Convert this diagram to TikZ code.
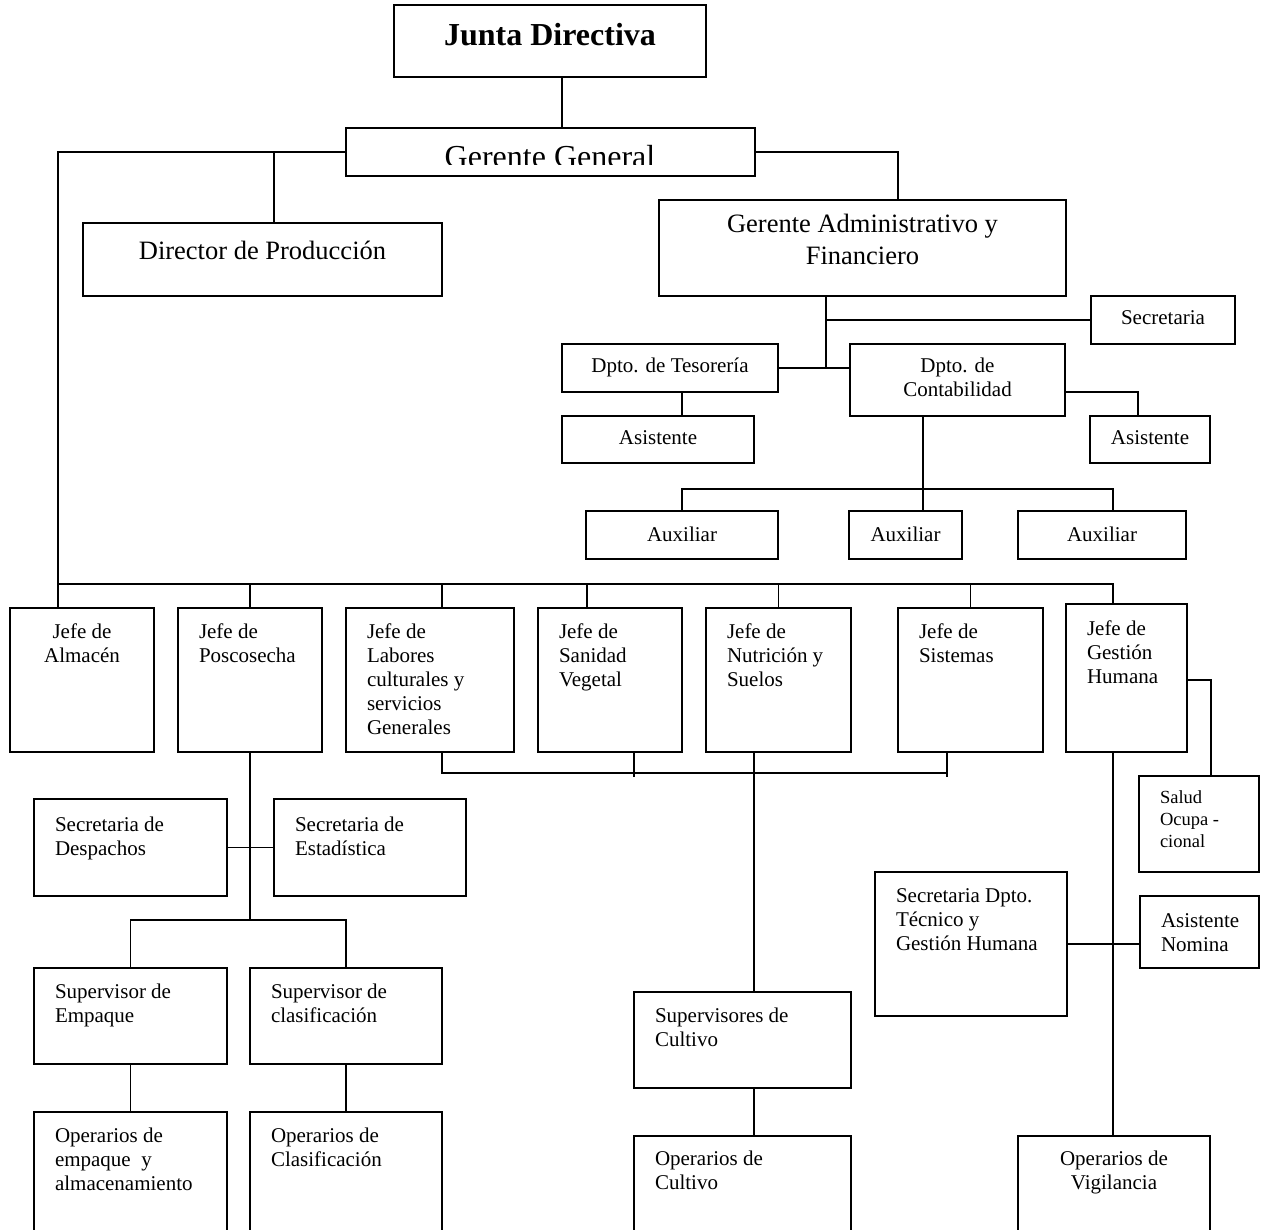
\documentclass[tikz,border=0pt]{standalone}
\usepackage{fontspec}
\setmainfont{Liberation Serif}
\tikzset{
  box/.style={draw, line width=1.4pt, inner sep=0pt, outer sep=0pt, anchor=north west, font=\fontsize{21}{24}\selectfont},
  conn/.style={line width=1.4pt}
}
% #1 name, #2 x1, #3 y1, #4 x2, #5 y2, #6 alignment/font, #7 first baseline offset, #8 text
\newcommand\obox[8]{%
  \pgfmathsetmacro\bxw{#4-#2}\pgfmathsetmacro\bxh{#5-#3}%
  \node[box] (#1) at (#2,#3) {\parbox[t][\bxh pt][t]{\bxw pt}{#6\rule{0pt}{#7pt}#8\par}};%
}
\newcommand\AlL{\raggedright\leftskip=21pt\relax}
\newcommand\AlC{\centering}
\begin{document}
\begin{tikzpicture}[x=1pt,y=-1pt]
\useasboundingbox (0,0) rectangle (1264,1230);
\fill[white] (0,0) rectangle (1264,1230);
\clip (0,0) rectangle (1264,1230);

% ---- boxes ----
\obox{jd}{394}{5}{706}{77}{\AlC\fontsize{32}{38}\selectfont\bfseries}{41}{Junta Directiva}
\obox{gg}{346}{128}{755}{176}{\AlC}{30}{}
\begin{scope}
  \clip (gg.north west) rectangle ([yshift=11pt]gg.south east);
  \node[anchor=base, inner sep=0pt, font=\fontsize{32}{38}\selectfont] (ggtxt) at (550,168) {Gerente General};
\end{scope}
\obox{dir}{83}{223}{442}{296}{\AlC\fontsize{26.5}{32}\selectfont}{37}{Director de Producción}
\obox{ga}{659}{200}{1066}{296}{\AlC\fontsize{26.5}{32}\selectfont}{33}{Gerente Administrativo y\\Financiero}
\obox{sec}{1091}{296}{1235}{344}{\AlC}{29}{Secretaria}
\obox{tes}{562}{344}{778}{392}{\AlC}{29}{Dpto. de Tesorería}
\obox{con}{850}{344}{1065}{416}{\AlC}{29}{Dpto. de\\Contabilidad}
\obox{asT}{562}{416}{754}{463}{\AlC}{29}{Asistente}
\obox{asC}{1090}{416}{1210}{463}{\AlC}{29}{Asistente}
\obox{auxA}{586}{511}{778}{559}{\AlC}{30}{Auxiliar}
\obox{auxB}{849}{511}{962}{559}{\AlC}{30}{Auxiliar}
\obox{auxC}{1018}{511}{1186}{559}{\AlC}{30}{Auxiliar}

\obox{alm}{10}{608}{154}{752}{\AlC}{30}{Jefe de\\Almacén}
\obox{pos}{178}{608}{322}{752}{\AlL}{30}{Jefe de\\Poscosecha}
\obox{lab}{346}{608}{514}{752}{\AlL}{30}{Jefe de\\Labores\\culturales y\\servicios\\Generales}
\obox{san}{538}{608}{682}{752}{\AlL}{30}{Jefe de\\Sanidad\\Vegetal}
\obox{nut}{706}{608}{851}{752}{\AlL}{30}{Jefe de\\Nutrición y\\Suelos}
\obox{sis}{898}{608}{1043}{752}{\AlL}{30}{Jefe de\\Sistemas}
\obox{gh}{1066}{604}{1187}{752}{\AlL}{31}{Jefe de\\Gestión\\Humana}
\obox{sal}{1139}{776}{1259}{872}{\AlL\fontsize{18.5}{22}\selectfont}{27}{Salud\\Ocupa -\\cional}

\obox{sD}{34}{799}{227}{896}{\AlL}{32}{Secretaria de\\Despachos}
\obox{sE}{274}{799}{466}{896}{\AlL}{32}{Secretaria de\\Estadística}
\obox{supE}{34}{968}{227}{1064}{\AlL}{30}{Supervisor de\\Empaque}
\obox{supK}{250}{968}{442}{1064}{\AlL}{30}{Supervisor de\\clasificación}
\obox{opE}{34}{1112}{227}{1260}{\AlL}{30}{Operarios de\\empaque~~y\\almacenamiento}
\obox{opK}{250}{1112}{442}{1260}{\AlL}{30}{Operarios de\\Clasificación}
\obox{supC}{634}{992}{851}{1088}{\AlL}{30}{Supervisores de\\Cultivo}
\obox{opC}{634}{1136}{851}{1260}{\AlL}{29}{Operarios de\\Cultivo}
\obox{opV}{1018}{1136}{1210}{1260}{\AlC}{29}{Operarios de\\Vigilancia}
\obox{secD}{875}{872}{1067}{1016}{\AlL}{30}{Secretaria Dpto.\\Técnico y\\Gestión Humana}
\obox{asN}{1140}{896}{1259}{968}{\AlL}{31}{Asistente\\Nomina}

% ---- helper coordinates ----
\coordinate (yGG) at (0,152);
\coordinate (yJ) at (0,584);
\coordinate (yAux) at (0,489);
\coordinate (yC) at (0,392);
\coordinate (yB) at (0,773);
\coordinate (yBt) at (0,777);
\coordinate (yS) at (0,680);
\coordinate (yN) at (0,944);
\coordinate (yP) at (0,920);
\coordinate (jT) at (826,368);
\coordinate (x58) at (58,0);
\coordinate (x274) at (274,0);
\coordinate (x442) at (442,0);
\coordinate (x562) at (562,0);
\coordinate (x587) at (587,0);
\coordinate (x634) at (634,0);
\coordinate (x682) at (682,0);
\coordinate (x754) at (754,0);
\coordinate (x898) at (898,0);
\coordinate (x923) at (923,0);
\coordinate (x947) at (947,0);
\coordinate (x1113) at (1113,0);
\coordinate (x1138) at (1138,0);
\coordinate (x1211) at (1211,0);

% ---- connectors ----
\draw[conn] (jd.south -| x562) -- (gg.north -| x562);
\draw[conn] (gg.west |- yGG) -| (alm.north -| x58);
\draw[conn] (dir.north -| x274) -- (yGG -| x274);
\draw[conn] (gg.east |- yGG) -| (ga.north -| x898);
\draw[conn] (ga.south -| jT) -- (jT);
\draw[conn] (tes.east |- jT) -- (con.west |- jT);
\draw[conn] (sec.west) -- (sec.west -| jT);
\draw[conn] (tes.south -| x682) -- (asT.north -| x682);
\draw[conn] (con.east |- yC) -| (asC.north -| x1138);
\draw[conn] (con.south -| x923) -- (auxB.north -| x923);
\draw[conn] (auxA.north) |- (yAux -| x1113) -- (auxC.north -| x1113);

\draw[conn] (yJ -| x58) -- (yJ -| x1113) -- (gh.north -| x1113);
\draw[conn] (pos.north) -- (pos.north |- yJ);
\draw[conn] (lab.north -| x442) -- (yJ -| x442);
\draw[conn] (san.north -| x587) -- (yJ -| x587);
\draw[conn] (nut.north) -- (nut.north |- yJ);
\draw[conn] (sis.north) -- (sis.north |- yJ);

\draw[conn] (lab.south -| x442) |- (yB -| x947);
\draw[conn] (san.south -| x634) -- (yBt -| x634);
\draw[conn] (sis.south -| x947) -- (yBt -| x947);

\draw[conn] (nut.south -| x754) -- (supC.north -| x754);
\draw[conn] (supC.south -| x754) -- (opC.north -| x754);

\draw[conn] (gh.south -| x1113) -- (opV.north -| x1113);
\draw[conn] (gh.east |- yS) -| (sal.north -| x1211);
\draw[conn] (secD.east |- yN) -- (asN.west |- yN);

\draw[conn] (pos.south) -- (pos.south |- yP);
\draw[conn] (sD.east) -- (sE.west);
\draw[conn] (supE.north) |- (supK.north |- yP) -- (supK.north);
\draw[conn] (supE.south) -- (supE.south |- opE.north);
\draw[conn] (supK.south) -- (supK.south |- opK.north);
\end{tikzpicture}
\end{document}
